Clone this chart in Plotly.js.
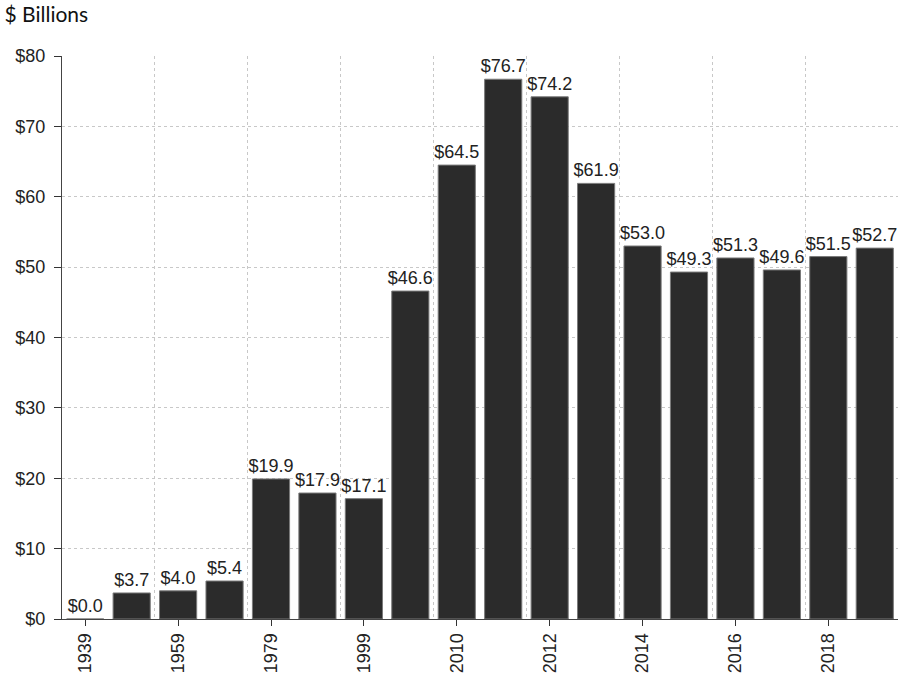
<!DOCTYPE html>
<html>
<head>
<meta charset="utf-8">
<script src="https://cdn.plot.ly/plotly-3.0.1.min.js"></script>
<style>html,body{margin:0;padding:0;background:#fff;}#chart{width:906px;height:675px;}</style>
</head>
<body>
<div id="chart"></div>
<script>
const years = ["1939","1949","1959","1969","1979","1989","1999","2009","2010","2011","2012","2013","2014","2015","2016","2017","2018","2019"];
const values = [0.0, 3.7, 4.0, 5.4, 19.9, 17.9, 17.1, 46.6, 64.5, 76.7, 74.2, 61.9, 53.0, 49.3, 51.3, 49.6, 51.5, 52.7];
const yTickVals = [0, 10, 20, 30, 40, 50, 60, 70, 80];
const yTickText = ["$0", "$10", "$20", "$30", "$40", "$50", "$60", "$70", "$80"];

const idx = years.map((_, i) => i);
const shownIdx = idx.filter(i => i % 2 === 0);
const shownText = shownIdx.map(i => years[i]);

const trace = {
  type: 'bar',
  x: idx,
  y: values,
  width: 0.8,
  marker: { color: '#2b2b2b', line: { color: '#7a7a7a', width: 1 } },
  text: values.map(v => '$' + v.toFixed(1)),
  textposition: 'outside',
  constraintext: 'none',
  cliponaxis: false,
  textfont: { family: 'Liberation Sans, Arial, sans-serif', size: 18, color: '#222' },
  hoverinfo: 'skip'
};

const layout = {
  width: 906, height: 675,
  margin: { l: 62, r: 8, t: 56, b: 56 },
  paper_bgcolor: '#fff', plot_bgcolor: '#fff',
  showlegend: false,
  bargap: 0.2,
  title: { text: '$ Billions', x: 0.005, xanchor: 'left', y: 0.979, yanchor: 'middle',
           font: { family: 'Lato, sans-serif', size: 21, color: '#111' } },
  xaxis: {
    range: [-0.5, 17.5],
    tickmode: 'array', tickvals: shownIdx, ticktext: shownText,
    tickangle: -90,
    ticks: 'outside', ticklen: 6, tickcolor: '#333',
    tickfont: { family: 'Liberation Sans, Arial, sans-serif', size: 18, color: '#222' },
    showline: true, linecolor: '#444', linewidth: 1,
    showgrid: false, zeroline: false,
    minor: { tick0: -0.5, dtick: 2, showgrid: true, gridcolor: '#c8c8c8', griddash: 'dot', gridwidth: 1, ticks: '' }
  },
  yaxis: {
    range: [0, 80],
    tickmode: 'array', tickvals: yTickVals, ticktext: yTickText,
    ticks: 'outside', ticklen: 7, tickcolor: '#333',
    ticklabelstandoff: 5,
    tickfont: { family: 'Liberation Sans, Arial, sans-serif', size: 18, color: '#222' },
    showline: true, linecolor: '#444', linewidth: 1,
    showgrid: true, gridcolor: '#c8c8c8', griddash: 'dot', gridwidth: 1,
    zeroline: false
  }
};

Plotly.newPlot('chart', [trace], layout, { staticPlot: true, displayModeBar: false });
</script>
</body>
</html>
